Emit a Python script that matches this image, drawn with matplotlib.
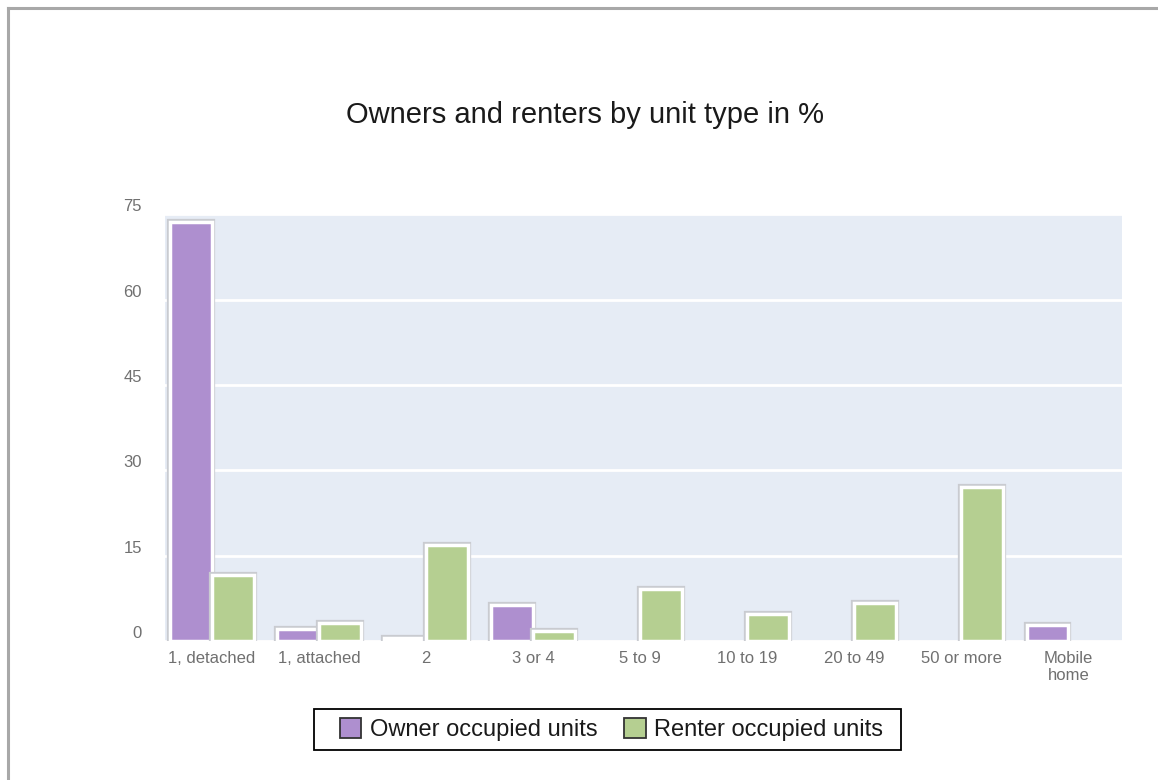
import matplotlib
matplotlib.use("Agg")
import matplotlib.pyplot as plt
import matplotlib.patheffects as pe
from matplotlib.lines import Line2D
from matplotlib.patches import Rectangle
import numpy as np

categories = ["1, detached", "1, attached", "2", "3 or 4", "5 to 9",
              "10 to 19", "20 to 49", "50 or more", "Mobile\nhome"]
owner = [73.7, 2.1, 0.5, 6.3, 0, 0, 0, 0, 2.9]
renter = [11.6, 3.1, 16.9, 1.8, 9.1, 4.7, 6.7, 27.1, 0]
yticks = [0, 15, 30, 45, 60, 75]
series_names = ["Owner occupied units", "Renter occupied units"]

plt.rcParams['font.family'] = ['Liberation Sans', 'DejaVu Sans']

W, H = 1158, 780
fig = plt.figure(figsize=(W / 100, H / 100), dpi=100)
fig.patch.set_facecolor('white')

# outer border (top and left)
fig.add_artist(Line2D([8 / W, 8 / W], [0, 1 - 8 / H], transform=fig.transFigure,
                      color='#a8a8a8', lw=2.2))
fig.add_artist(Line2D([8 / W, 1], [1 - 8 / H, 1 - 8 / H], transform=fig.transFigure,
                      color='#a8a8a8', lw=2.2))

left, right = 165 / W, 1122 / W
bottom, top = 1 - 641 / H, 1 - 214.5 / H
ax = fig.add_axes([left, bottom, right - left, top - bottom])
ax.set_facecolor('#e6ecf5')
for s in ax.spines.values():
    s.set_visible(False)

x = np.arange(len(categories))
bw = 0.39
effects = [pe.Stroke(linewidth=4.5, foreground='#c9cbd0'), pe.Normal()]
b1 = ax.bar(x - bw / 2, owner, bw, color='#ae8fcf', edgecolor='white', linewidth=2.5, zorder=3)
b2 = ax.bar(x + bw / 2, renter, bw, color='#b5cf91', edgecolor='white', linewidth=2.5, zorder=3)
for bars, vals in ((b1, owner), (b2, renter)):
    for r, v in zip(bars, vals):
        if v > 0:
            r.set_path_effects(effects)
        else:
            r.set_visible(False)

ax.set_ylim(0, 75)
ax.set_xlim(-0.44, 8.5)
ax.yaxis.grid(True, color='white', lw=2, zorder=1)
ax.set_yticks(yticks)
ax.set_yticklabels([str(t) for t in yticks], color='#707070', fontsize=12, va='bottom')
ax.tick_params(axis='y', length=0, pad=16.5)
ax.set_xticks(x)
ax.set_xticklabels(categories, color='#707070', fontsize=12, linespacing=1.15)
ax.tick_params(axis='x', length=0, pad=7)
ax.set_axisbelow(True)

fig.text(585 / W, 1 - 115 / H, "Owners and renters by unit type in %",
         ha='center', va='center', fontsize=21, color='#1a1a1a')

# legend frame drawn separately (asymmetric padding as in the reference)
fig.add_artist(Rectangle((314 / W, 1 - 750 / H), (901 - 314) / W, 41 / H,
                         transform=fig.transFigure, facecolor='white',
                         edgecolor='black', lw=1.3, zorder=5))
handles = [Rectangle((0, 0), 1, 1, facecolor='#ae8fcf', edgecolor='#333333', lw=1.3),
           Rectangle((0, 0), 1, 1, facecolor='#b5cf91', edgecolor='#333333', lw=1.3)]
leg = fig.legend(handles, series_names, loc='center left', bbox_to_anchor=(340 / W, 1 - 729.5 / H),
                 ncol=2, frameon=False, fontsize=17, borderpad=0, borderaxespad=0,
                 handlelength=0.9, handleheight=0.9, handletextpad=0.35, columnspacing=1.15)
leg.set_zorder(6)
for t in leg.get_texts():
    t.set_color('#1a1a1a')

fig.savefig("out.png", dpi=100, facecolor='white')
